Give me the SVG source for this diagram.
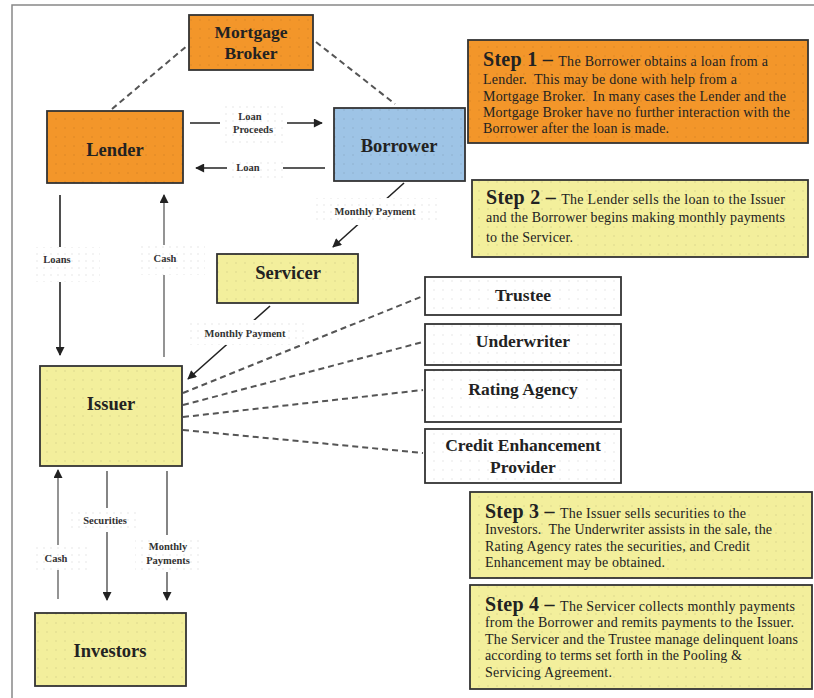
<svg xmlns="http://www.w3.org/2000/svg" width="814" height="698" viewBox="0 0 814 698">
<style>
.node{stroke:#333;stroke-width:1.8}
.orange{fill:#F3962A}
.yellow{fill:#F3EF9C}
.blue{fill:#9EC4E6}
.white{fill:#fff}
.dots{fill:url(#dots);stroke:none}
.lbl{fill:#fff}
.lbldots{fill:url(#ldots)}
.nt{font-family:"Liberation Serif",serif;font-weight:bold;font-size:17.5px;fill:#222;text-anchor:middle}
.big{font-size:18.5px}
.st{font-family:"Liberation Serif",serif;font-size:14px;fill:#222;white-space:pre}
.sh{font-weight:bold;font-size:20px}
.cl{font-family:"Liberation Serif",serif;font-weight:bold;font-size:10.5px;fill:#333;text-anchor:middle}
.arr{stroke:#222;stroke-width:1.6;fill:none;marker-end:url(#ah)}
.garr{stroke:#888;stroke-width:1.8;fill:none;marker-end:url(#ah)}
.dash{stroke:#555;stroke-width:2;stroke-dasharray:6,4;fill:none}
</style>
<defs>
<pattern id="dots" width="9" height="9" patternUnits="userSpaceOnUse"><circle cx="2" cy="2" r="0.7" fill="#000" opacity="0.12"/></pattern>
<pattern id="ldots" width="7" height="7" patternUnits="userSpaceOnUse"><circle cx="2" cy="2" r="0.7" fill="#000" opacity="0.12"/></pattern>
<marker id="ah" viewBox="0 0 10 10" refX="9" refY="5" markerWidth="10" markerHeight="9" markerUnits="userSpaceOnUse" orient="auto"><path d="M0,0 L10,5 L0,10 z" fill="#222"/></marker>
</defs>
<rect width="814" height="698" fill="#fff"/>
<path d="M12,698 V5 H814" fill="none" stroke="#888" stroke-width="1.5"/>

<g id="connectors">
<line class="dash" x1="112" y1="109" x2="188" y2="45"/>
<line class="dash" x1="316" y1="42" x2="395" y2="104"/>
<line class="arr" x1="190" y1="123" x2="322" y2="123"/>
<line class="arr" x1="325" y1="168" x2="196" y2="168"/>
<line class="arr" x1="60" y1="195" x2="60" y2="355"/>
<line class="garr" x1="164" y1="357" x2="164" y2="195"/>
<line class="arr" x1="404" y1="183" x2="333" y2="247"/>
<line class="arr" x1="270" y1="306" x2="188" y2="379"/>
<line class="dash" x1="183" y1="393" x2="423" y2="296"/>
<line class="dash" x1="183" y1="405" x2="423" y2="342"/>
<line class="dash" x1="183" y1="417" x2="423" y2="390"/>
<line class="dash" x1="183" y1="430" x2="423" y2="453"/>
<line class="garr" x1="58" y1="599" x2="58" y2="470"/>
<line class="arr" x1="107" y1="471" x2="107" y2="600" style="stroke:#666"/>
<line class="arr" x1="167" y1="471" x2="167" y2="600" style="stroke:#666"/>
<g id="labels">
<rect class="lbl" x="220" y="104" width="67" height="39"/><rect class="lbldots" x="220" y="104" width="67" height="39"/>
<text class="cl" x="250" y="120">Loan</text><text class="cl" x="253" y="133">Proceeds</text>
<rect class="lbl" x="227" y="158" width="56" height="20"/><rect class="lbldots" x="227" y="158" width="56" height="20"/>
<text class="cl" x="248" y="171">Loan</text>
<rect class="lbl" x="32" y="247" width="68" height="35"/><rect class="lbldots" x="32" y="247" width="68" height="35"/>
<text class="cl" x="57" y="263">Loans</text>
<rect class="lbl" x="140" y="245" width="65" height="30"/><rect class="lbldots" x="140" y="245" width="65" height="30"/>
<text class="cl" x="165" y="262">Cash</text>
<rect class="lbl" x="313" y="198" width="127" height="27"/><rect class="lbldots" x="313" y="198" width="127" height="27"/>
<text class="cl" x="375" y="215">Monthly Payment</text>
<rect class="lbl" x="185" y="320" width="120" height="25"/><rect class="lbldots" x="185" y="320" width="120" height="25"/>
<text class="cl" x="245" y="337">Monthly Payment</text>
<rect class="lbl" x="32" y="545" width="56" height="25"/><rect class="lbldots" x="32" y="545" width="56" height="25"/>
<text class="cl" x="56" y="562">Cash</text>
<rect class="lbl" x="70" y="508" width="68" height="24"/><rect class="lbldots" x="70" y="508" width="68" height="24"/>
<text class="cl" x="105" y="524">Securities</text>
<rect class="lbl" x="135" y="535" width="65" height="37"/><rect class="lbldots" x="135" y="535" width="65" height="37"/>
<text class="cl" x="168" y="550">Monthly</text><text class="cl" x="168" y="564">Payments</text>
</g>
</g>

<g id="mortgage-broker"><rect class="node orange" x="189" y="15" width="124" height="55"/><rect class="dots" x="189" y="15" width="124" height="55"/>
<text class="nt" x="251" y="38">Mortgage</text><text class="nt" x="251" y="59">Broker</text></g>
<g id="lender"><rect class="node orange" x="47" y="111" width="136" height="72"/><rect class="dots" x="47" y="111" width="136" height="72"/>
<text class="nt big" x="115" y="156">Lender</text></g>
<g id="borrower"><rect class="node blue" x="334" y="108" width="131" height="73"/><rect class="dots" x="334" y="108" width="131" height="73"/>
<text class="nt big" x="399" y="152">Borrower</text></g>
<g id="servicer"><rect class="node yellow" x="217" y="254" width="141" height="49"/><rect class="dots" x="217" y="254" width="141" height="49"/>
<text class="nt big" x="288" y="279">Servicer</text></g>
<g id="issuer"><rect class="node yellow" x="40" y="366" width="142" height="100"/><rect class="dots" x="40" y="366" width="142" height="100"/>
<text class="nt big" x="111" y="410">Issuer</text></g>
<g id="investors"><rect class="node yellow" x="35" y="613" width="151" height="73"/><rect class="dots" x="35" y="613" width="151" height="73"/>
<text class="nt big" x="110" y="657">Investors</text></g>
<g id="trustee"><rect class="node white" x="425" y="277" width="196" height="38"/><rect class="dots" x="425" y="277" width="196" height="38"/>
<text class="nt" x="523" y="301">Trustee</text></g>
<g id="underwriter"><rect class="node white" x="425" y="324" width="196" height="41"/><rect class="dots" x="425" y="324" width="196" height="41"/>
<text class="nt" x="523" y="347">Underwriter</text></g>
<g id="rating-agency"><rect class="node white" x="425" y="370" width="196" height="52"/><rect class="dots" x="425" y="370" width="196" height="52"/>
<text class="nt" x="523" y="395">Rating Agency</text></g>
<g id="credit-enhancement"><rect class="node white" x="425" y="429" width="196" height="54"/><rect class="dots" x="425" y="429" width="196" height="54"/>
<text class="nt" x="523" y="451">Credit Enhancement</text><text class="nt" x="523" y="473">Provider</text></g>

<g id="step1"><rect class="node orange" x="468" y="40" width="340" height="103"/><rect class="dots" x="468" y="40" width="340" height="103"/>
<text class="st" x="483" y="66" textLength="285"><tspan class="sh">Step 1 – </tspan>The Borrower obtains a loan from a</text>
<text class="st" x="483" y="84" textLength="254">Lender.  This may be done with help from a</text>
<text class="st" x="483" y="101" textLength="303">Mortgage Broker.  In many cases the Lender and the</text>
<text class="st" x="483" y="117" textLength="307">Mortgage Broker have no further interaction with the</text>
<text class="st" x="483" y="133" textLength="186">Borrower after the loan is made.</text></g>
<g id="step2"><rect class="node yellow" x="472" y="180" width="336" height="77"/><rect class="dots" x="472" y="180" width="336" height="77"/>
<text class="st" x="486" y="204" textLength="299"><tspan class="sh">Step 2 – </tspan>The Lender sells the loan to the Issuer</text>
<text class="st" x="486" y="222" textLength="299">and the Borrower begins making monthly payments</text>
<text class="st" x="486" y="242" textLength="87">to the Servicer.</text></g>
<g id="step3"><rect class="node yellow" x="470" y="492" width="342" height="86"/><rect class="dots" x="470" y="492" width="342" height="86"/>
<text class="st" x="485" y="518" textLength="261"><tspan class="sh">Step 3 – </tspan>The Issuer sells securities to the</text>
<text class="st" x="485" y="534" textLength="287">Investors.  The Underwriter assists in the sale, the</text>
<text class="st" x="485" y="551" textLength="265">Rating Agency rates the securities, and Credit</text>
<text class="st" x="485" y="567" textLength="180">Enhancement may be obtained.</text></g>
<g id="step4"><rect class="node yellow" x="470" y="585" width="342" height="104"/><rect class="dots" x="470" y="585" width="342" height="104"/>
<text class="st" x="485" y="611" textLength="310"><tspan class="sh">Step 4 – </tspan>The Servicer collects monthly payments</text>
<text class="st" x="485" y="627" textLength="309">from the Borrower and remits payments to the Issuer.</text>
<text class="st" x="485" y="644" textLength="313">The Servicer and the Trustee manage delinquent loans</text>
<text class="st" x="485" y="660" textLength="257">according to terms set forth in the Pooling &amp;</text>
<text class="st" x="485" y="677" textLength="127">Servicing Agreement.</text></g>
</svg>
